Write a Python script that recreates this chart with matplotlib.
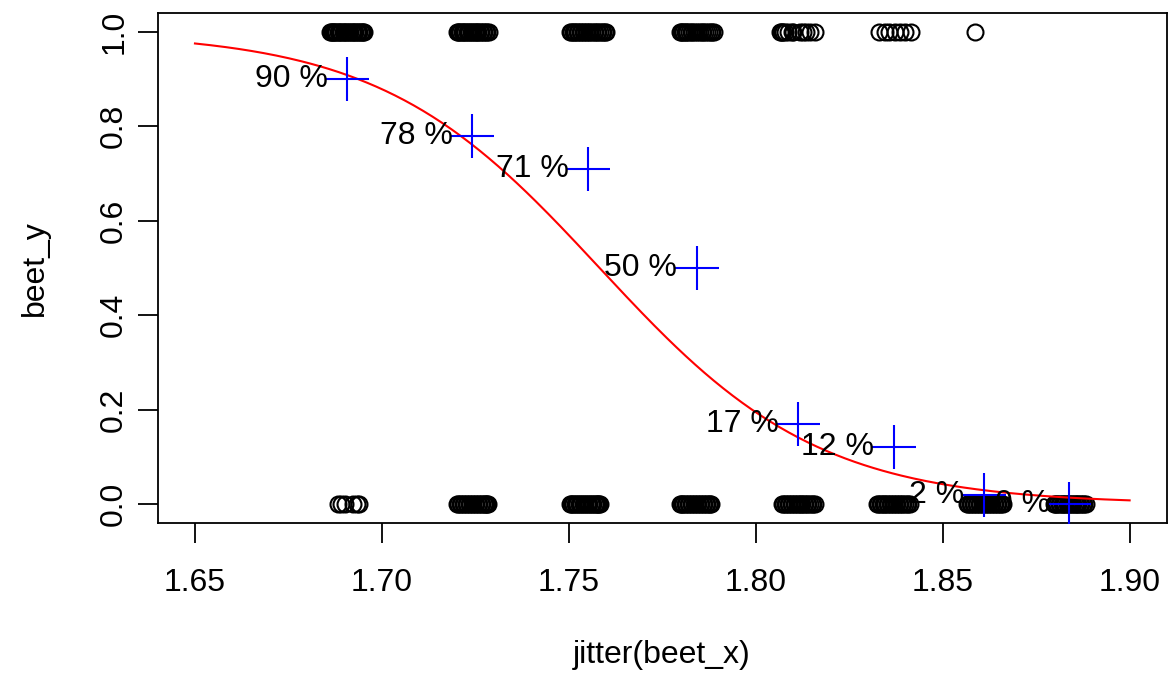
import numpy as np
import matplotlib
matplotlib.use("Agg")
import matplotlib.pyplot as plt

plt.rcParams['font.family'] = ['Liberation Sans', 'DejaVu Sans']

# dose levels and observed survival proportions
dose = [1.6907, 1.7242, 1.7552, 1.7842, 1.8113, 1.8369, 1.8610, 1.8839]
prop = [0.90, 0.78, 0.71, 0.50, 0.17, 0.12, 0.02, 0.00]
labels = ["90 %", "78 %", "71 %", "50 %", "17 %", "12 %", "2 %", "0 %"]

# jittered x positions of the individual outcomes
x_alive = [
    # 1.6907
    1.6860, 1.6863, 1.6866, 1.6869, 1.6872, 1.6875, 1.6878, 1.6882, 1.6885,
    1.6888, 1.6891, 1.6895, 1.6898, 1.6901, 1.6905, 1.6908, 1.6912, 1.6915,
    1.6919, 1.6922, 1.6926, 1.6929, 1.6933, 1.6937, 1.6940, 1.6944, 1.6947,
    1.6950, 1.6953,
    # 1.7242
    1.7201, 1.7204, 1.7207, 1.7210, 1.7213, 1.7216, 1.7220, 1.7223, 1.7227,
    1.7230, 1.7234, 1.7237, 1.7241, 1.7244, 1.7248, 1.7251, 1.7255, 1.7258,
    1.7262, 1.7266, 1.7270, 1.7274, 1.7278, 1.7282, 1.7286,
    # 1.7552
    1.7503, 1.7506, 1.7510, 1.7513, 1.7517, 1.7521, 1.7525, 1.7529, 1.7533,
    1.7537, 1.7541, 1.7545, 1.7549, 1.7553, 1.7557, 1.7561, 1.7566, 1.7570,
    1.7575, 1.7579, 1.7584, 1.7588, 1.7592, 1.7596, 1.7599,
    # 1.7842
    1.7797, 1.7800, 1.7803, 1.7806, 1.7810, 1.7813, 1.7817, 1.7821, 1.7826,
    1.7830, 1.7835, 1.7840, 1.7845, 1.7850, 1.7855, 1.7860, 1.7865, 1.7870,
    1.7875, 1.7880, 1.7884, 1.7888,
    # 1.8113
    1.8064, 1.8067, 1.8070, 1.8074, 1.8078, 1.8086, 1.8096, 1.8100, 1.8118,
    1.8126, 1.8134, 1.8144, 1.8158,
    # 1.8369
    1.8329, 1.8345, 1.8356, 1.8372, 1.8385, 1.8399, 1.8415,
    # 1.8610
    1.8586,
]
x_dead = [
    1.6882, 1.6890, 1.6901, 1.6922, 1.6933, 1.6938,
    # 1.7242
    1.7201, 1.7204, 1.7208, 1.7212, 1.7216, 1.7220, 1.7224, 1.7228, 1.7232,
    1.7236, 1.7240, 1.7244, 1.7248, 1.7252, 1.7256, 1.7260, 1.7264, 1.7268,
    1.7272, 1.7275, 1.7278, 1.7281, 1.7283,
    # 1.7552
    1.7503, 1.7506, 1.7509, 1.7512, 1.7516, 1.7519, 1.7523, 1.7526, 1.7530,
    1.7533, 1.7537, 1.7540, 1.7544, 1.7548, 1.7551, 1.7555, 1.7558, 1.7562,
    1.7565, 1.7569, 1.7572, 1.7575, 1.7578, 1.7581, 1.7583,
    # 1.7842
    1.7797, 1.7800, 1.7803, 1.7806, 1.7810, 1.7814, 1.7818, 1.7822, 1.7826,
    1.7830, 1.7834, 1.7838, 1.7842, 1.7846, 1.7850, 1.7854, 1.7858, 1.7862,
    1.7866, 1.7870, 1.7874, 1.7877, 1.7880,
    # 1.8113
    1.8070, 1.8073, 1.8077, 1.8081, 1.8085, 1.8089, 1.8093, 1.8097, 1.8101,
    1.8105, 1.8109, 1.8113, 1.8117, 1.8121, 1.8125, 1.8129, 1.8133, 1.8137,
    1.8141, 1.8145, 1.8150, 1.8154, 1.8158,
    # 1.8369
    1.8324, 1.8327, 1.8331, 1.8335, 1.8339, 1.8343, 1.8347, 1.8351, 1.8355,
    1.8359, 1.8363, 1.8367, 1.8371, 1.8375, 1.8379, 1.8383, 1.8387, 1.8391,
    1.8395, 1.8399, 1.8404, 1.8408, 1.8412,
    # 1.8610
    1.8564, 1.8568, 1.8572, 1.8576, 1.8580, 1.8584, 1.8588, 1.8592, 1.8596,
    1.8600, 1.8604, 1.8608, 1.8612, 1.8616, 1.8620, 1.8624, 1.8628, 1.8632,
    1.8636, 1.8640, 1.8644, 1.8648, 1.8652, 1.8656, 1.8660,
    # 1.8839
    1.8797, 1.8800, 1.8804, 1.8807, 1.8811, 1.8814, 1.8818, 1.8821, 1.8825,
    1.8828, 1.8832, 1.8835, 1.8839, 1.8842, 1.8846, 1.8849, 1.8853, 1.8856,
    1.8860, 1.8863, 1.8867, 1.8870, 1.8874, 1.8878, 1.8882,
]

# fitted logistic curve: p = 1 / (1 + exp(-(a + b x)))
a_fit, b_fit = 59.78, -34.0

fig = plt.figure(figsize=(11.69, 6.79), dpi=100)
ax = fig.add_axes([0.1348, 0.2297, 0.9983 - 0.1348, 0.9809 - 0.2297])

ax.plot(x_alive, np.ones(len(x_alive)), 'o', mfc='none', mec='black',
        ms=11.5, mew=1.5, zorder=2)
ax.plot(x_dead, np.zeros(len(x_dead)), 'o', mfc='none', mec='black',
        ms=11.5, mew=1.5, zorder=2)

xs = np.linspace(1.65, 1.90, 300)
ax.plot(xs, 1 / (1 + np.exp(-(a_fit + b_fit * xs))), color='red', lw=1.5, zorder=3)

ax.plot(dose, prop, '+', color='blue', ms=31, mew=1.5, zorder=4)
for d, p, lab in zip(dose, prop, labels):
    ax.annotate(lab, (d, p), xytext=(-14, 0), textcoords='offset points',
                ha='right', va='center', fontsize=23, zorder=5)

ax.set_xlim(1.64, 1.91)
ax.set_ylim(-0.04, 1.04)
ax.set_xticks([1.65, 1.70, 1.75, 1.80, 1.85, 1.90])
ax.set_xticklabels(["1.65", "1.70", "1.75", "1.80", "1.85", "1.90"])
ax.set_yticks([0.0, 0.2, 0.4, 0.6, 0.8, 1.0])
ax.set_yticklabels(["0.0", "0.2", "0.4", "0.6", "0.8", "1.0"],
                   rotation=90, va='center')
ax.tick_params(axis='both', length=14.4, width=1.3, labelsize=23, direction='out')
ax.tick_params(axis='x', pad=18)
ax.tick_params(axis='y', pad=6)
for s in ax.spines.values():
    s.set_linewidth(1.3)

fig.text(0.5663, 24 / 679, "jitter(beet_x)", ha='center', va='center', fontsize=23)
fig.text(35 / 1169, 0.6053, "beet_y", ha='center', va='center', fontsize=23,
         rotation=90)

fig.savefig("out.png", dpi=100)
